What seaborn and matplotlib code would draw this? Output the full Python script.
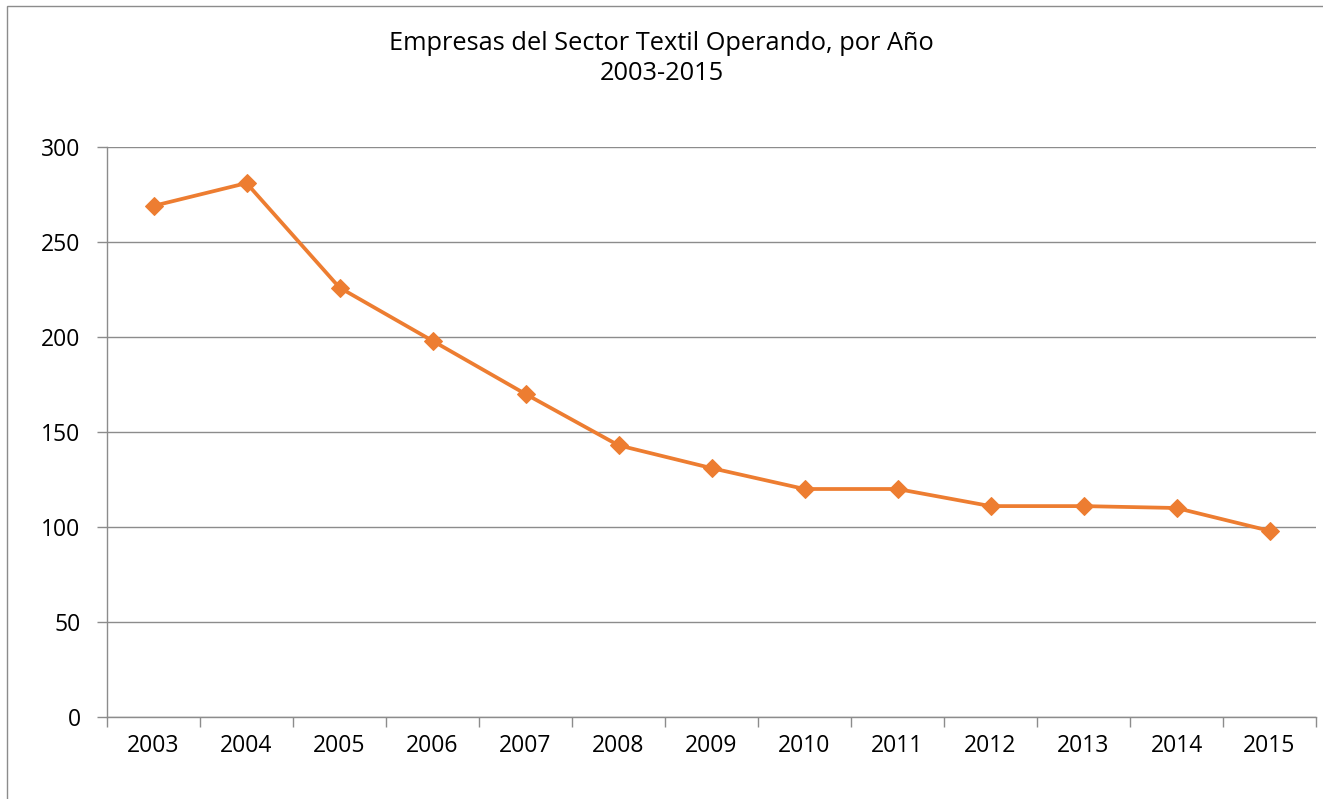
import matplotlib
matplotlib.use("Agg")
import matplotlib.pyplot as plt
import seaborn as sns
import pandas as pd
from matplotlib.patches import Rectangle

years = ["2003", "2004", "2005", "2006", "2007", "2008", "2009",
         "2010", "2011", "2012", "2013", "2014", "2015"]
empresas = [269, 281, 226, 198, 170, 143, 131, 120, 120, 111, 111, 110, 98]
title_lines = ["Empresas del Sector Textil Operando, por Año", "2003-2015"]
y_ticks = [0, 50, 100, 150, 200, 250, 300]

sns.set_theme(style="white")
plt.rcParams['font.family'] = ['Open Sans', 'DejaVu Sans']

df = pd.DataFrame({"pos": range(len(years)), "year": years, "value": empresas})

fig = plt.figure(figsize=(13.23, 7.99), dpi=100)
fig.patch.set_facecolor("white")
# outer chart frame
fig.patches.append(Rectangle((7 / 1323, -0.05), 1.1, 1 - 6 / 799 + 0.05,
                             transform=fig.transFigure, fill=False,
                             edgecolor="#8c8c8c", linewidth=1.0))

ax = fig.add_axes([107 / 1323, 1 - 717 / 799, (1316 - 107) / 1323, (717 - 147) / 799])
sns.lineplot(data=df, x="pos", y="value", ax=ax, color="#ED7D31", linewidth=2.7,
             marker="D", markersize=9, markeredgecolor="#ED7D31")

ax.set_xlim(-0.5, len(years) - 0.5)
ax.set_ylim(0, 300)
ax.set_yticks(y_ticks)
ax.set_yticklabels([str(t) for t in y_ticks], fontsize=16.5, color="black")
ax.yaxis.grid(True, color="#8c8c8c", linewidth=1.0)
ax.set_axisbelow(True)

# ticks at category boundaries, labels at centres
ax.set_xticks([i - 0.5 for i in range(len(years) + 1)])
ax.set_xticklabels([""] * (len(years) + 1))
ax.set_xticks(range(len(years)), minor=True)
ax.set_xticklabels(years, minor=True, fontsize=16.5, color="black")
ax.tick_params(axis="x", which="major", direction="out", length=7, width=1,
               color="#8c8c8c", bottom=True)
ax.tick_params(axis="x", which="minor", length=0, pad=12)
ax.tick_params(axis="y", direction="out", length=7, width=1, color="#8c8c8c",
               left=True, pad=12)

for side in ["top", "right"]:
    ax.spines[side].set_visible(False)
for side in ["left", "bottom"]:
    ax.spines[side].set_color("#8c8c8c")
    ax.spines[side].set_linewidth(1.0)

ax.set_xlabel("")
ax.set_ylabel("")

fig.text(0.5, 1 - 43 / 799, title_lines[0], ha="center", va="center", fontsize=18.3, color="black")
fig.text(0.5, 1 - 74 / 799, title_lines[1], ha="center", va="center", fontsize=18.3, color="black")

fig.savefig("out.png", dpi=100, facecolor="white")
